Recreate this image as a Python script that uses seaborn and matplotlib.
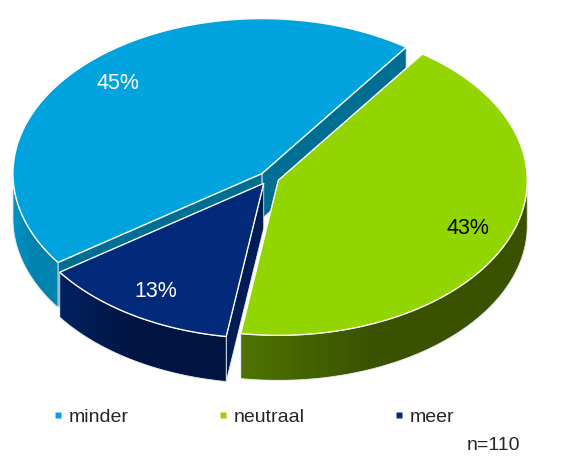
import numpy as np
import matplotlib
matplotlib.use("Agg")
import matplotlib.pyplot as plt
from matplotlib.patches import Polygon
from matplotlib.lines import Line2D
from matplotlib.colors import to_rgb
import seaborn as sns

# Answer shares (percent) and labels, drawn clockwise
categories = ["minder", "neutraal", "meer"]
values = [45, 43, 13]
sample_label = "n=110"

top_colors = ["#00A3DE", "#93D500", "#02297A"]
wall_light = ["#0093C5", "#4F7400", "#00215F"]
wall_dark = ["#0082AE", "#3A5200", "#001441"]
face_colors = ["#006E93", "#3F5A00", "#001C55"]
label_colors = ["white", "black", "white"]

sns.set_style("white")
plt.rcParams["font.family"] = ["Liberation Sans", "DejaVu Sans"]

W, H = 581, 458
fig = plt.figure(figsize=(W / 100, H / 100), dpi=100)
ax = fig.add_axes([0, 0, 1, 1])

# 3-D pie geometry (screen units, y pointing down)
cx, cy = 269.0, 178.0
rx, ry = 249.0, 155.0
depth = 45.0
explode = 10.0
start = 215.0  # first slice begins here and runs clockwise

def pt(ox, oy, ang, dy=0.0):
    a = np.deg2rad(ang)
    return ox + rx * np.cos(a), oy - ry * np.sin(a) + dy

total = float(sum(values))
slices = []
a_end = start
for i, v in enumerate(values):
    span = v / total * 360.0
    a_hi = a_end
    a_lo = a_end - span
    a_end = a_lo
    mid = np.deg2rad((a_lo + a_hi) / 2)
    ox = cx + explode * np.cos(mid)
    oy = cy - explode * np.sin(mid) * ry / rx
    slices.append(dict(i=i, lo=a_lo, hi=a_hi, ox=ox, oy=oy, mid=mid))

edge_col = "#E4EBF2"
z = [1.0]

def nextz():
    z[0] += 0.01
    return z[0]

def draw_slice(s):
    i, lo, hi, ox, oy = s["i"], s["lo"], s["hi"], s["ox"], s["oy"]
    # radial cut faces, visible when their outward normal points towards the viewer
    for ang, normal in ((lo, lo - 90.0), (hi, hi + 90.0)):
        if np.sin(np.deg2rad(normal)) < 0:
            ex, ey = pt(ox, oy, ang)
            quad = [(ox, oy), (ex, ey), (ex, ey + depth), (ox, oy + depth)]
            ax.add_patch(Polygon(quad, closed=True, facecolor=face_colors[i],
                                 edgecolor=edge_col, lw=0.6, zorder=nextz()))
    # outer curved wall (front half only), shaded left to right
    for k in range(-1, 2):
        w_lo = max(lo, 180.0 + 360.0 * k)
        w_hi = min(hi, 360.0 + 360.0 * k)
        if w_hi <= w_lo:
            continue
        angs = np.linspace(w_lo, w_hi, 200)
        top = [pt(ox, oy, a) for a in angs]
        bot = [(x, y + depth) for x, y in top[::-1]]
        pts = np.array(top + bot)
        x0, x1 = pts[:, 0].min(), pts[:, 0].max()
        y0, y1 = pts[:, 1].min(), pts[:, 1].max()
        zi = nextz()
        wall = Polygon(pts, closed=True, facecolor="none",
                       edgecolor=edge_col, lw=0.6, zorder=zi + 0.001)
        ax.add_patch(wall)
        c0, c1 = np.array(to_rgb(wall_light[i])), np.array(to_rgb(wall_dark[i]))
        t = np.clip(2.2 * np.linspace(0, 1, 256), 0, 1)
        img = (c0 + (c1 - c0) * t[:, None])[None, :, :]
        im = ax.imshow(img, extent=[x0, x1, y1, y0], aspect="auto",
                       interpolation="bilinear", zorder=zi)
        im.set_clip_path(wall)
    # top face
    angs = np.linspace(lo, hi, 240)
    poly = [(ox, oy)] + [pt(ox, oy, a) for a in angs]
    ax.add_patch(Polygon(poly, closed=True, facecolor=top_colors[i],
                         edgecolor="white", lw=1.0, zorder=nextz()))

# paint from back to front
for s in sorted(slices, key=lambda s: -np.sin(s["mid"])):
    draw_slice(s)

# percentage labels on the top faces
for s in slices:
    f = 0.82
    lx = s["ox"] + f * rx * np.cos(s["mid"])
    ly = s["oy"] - f * ry * np.sin(s["mid"])
    ax.text(lx, ly, f"{values[s['i']]}%", color=label_colors[s["i"]],
            fontsize=15.5, ha="center", va="center", zorder=5)

ax.set_xlim(0, W)
ax.set_ylim(H, 0)
ax.axis("off")

handles = [Line2D([], [], marker="s", linestyle="none", markersize=4.5,
                  markerfacecolor=top_colors[i], markeredgecolor="none")
           for i in range(len(categories))]
fig.legend(handles, categories, loc="center", bbox_to_anchor=(254 / W, 1 - 417 / H),
           ncol=3, frameon=False, fontsize=14, handlelength=0.5,
           handletextpad=0.3, columnspacing=4.6)

ax.text(520, 445, sample_label, fontsize=14, ha="right", va="center")

fig.savefig("out.png", dpi=100)
